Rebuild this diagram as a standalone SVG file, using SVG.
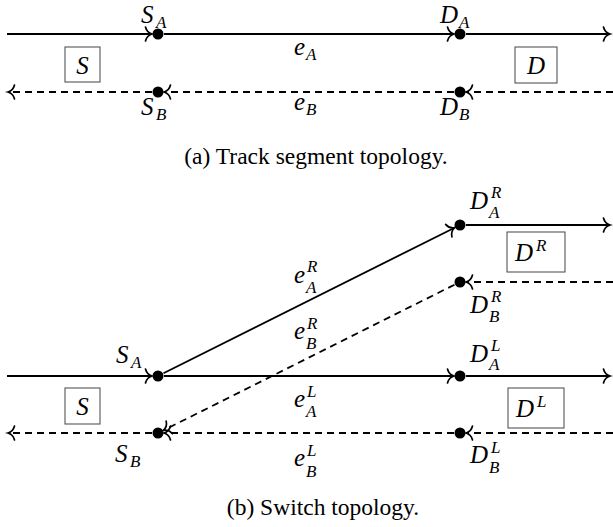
<svg xmlns="http://www.w3.org/2000/svg" width="613" height="527" viewBox="0 0 613 527">
<style>
.ln{fill:none;stroke:#000;stroke-width:1.8;marker-end:url(#arr)}
.ds{stroke-dasharray:7 5}
.dot{fill:#000}
.box{fill:#fff;stroke:#555;stroke-width:1.1}
.m{font-style:italic;font-size:25px;fill:#000}
.s{font-size:17px}
.cap{font-size:23.5px;fill:#000;text-anchor:middle}
</style>
<defs>
<marker id="arr" markerUnits="userSpaceOnUse" markerWidth="16" markerHeight="18" viewBox="-9 -9 11 18" refX="0" refY="0" orient="auto">
<path d="M-6.5,-7 C-5.5,-3 -2.5,-0.7 0,0 C-2.5,0.7 -5.5,3 -6.5,7" fill="none" stroke="#000" stroke-width="1.7" stroke-dasharray="none" stroke-linecap="round"/>
</marker>
</defs>

<g id="connectors">
<path class="ln" d="M7,34 H152"/>
<path class="ln" d="M164,34 H454"/>
<path class="ln" d="M466,34 H610"/>
<path class="ln ds" d="M613,92 H466"/>
<path class="ln ds" d="M454,92 H164"/>
<path class="ln ds" d="M152,92 H8"/>
<path class="ln" d="M7,376 H152"/>
<path class="ln" d="M164,376 H454"/>
<path class="ln" d="M466,376 H610"/>
<path class="ln" d="M163.5,373.3 L454.6,227.7"/>
<path class="ln" d="M466,225 H610"/>
<path class="ln ds" d="M613,282 H466"/>
<path class="ln ds" d="M454.5,284.7 L163.5,430.3"/>
<path class="ln ds" d="M613,433 H466"/>
<path class="ln ds" d="M454,433 H164"/>
<path class="ln ds" d="M152,433 H8"/>
</g>

<g font-family="'Liberation Serif', 'Times New Roman', 'DejaVu Serif', serif">
<g id="S_A_a"><circle class="dot" cx="158" cy="34" r="5.5"/><text class="m" x="141" y="23">S<tspan class="s" x="156" y="28">A</tspan></text></g>
<g id="D_A_a"><circle class="dot" cx="460" cy="34" r="5.5"/><text class="m" x="440" y="23">D<tspan class="s" x="459" y="28">A</tspan></text></g>
<g id="S_B_a"><circle class="dot" cx="158" cy="92" r="5.5"/><text class="m" x="141" y="115">S<tspan class="s" x="156" y="120">B</tspan></text></g>
<g id="D_B_a"><circle class="dot" cx="460" cy="92" r="5.5"/><text class="m" x="440" y="115">D<tspan class="s" x="459" y="120">B</tspan></text></g>
<g id="e_A_a"><text class="m" x="294" y="55">e<tspan class="s" x="306" y="60">A</tspan></text></g>
<g id="e_B_a"><text class="m" x="294" y="110">e<tspan class="s" x="306" y="115">B</tspan></text></g>
<g id="S_box_a"><rect class="box" x="65" y="47" width="35" height="35"/><text class="m" x="82.5" y="73.5" text-anchor="middle">S</text></g>
<g id="D_box_a"><rect class="box" x="515" y="47" width="42" height="36"/><text class="m" x="536" y="74" text-anchor="middle">D</text></g>
<text class="cap" x="316" y="164">(a) Track segment topology.</text>

<g id="S_A_b"><circle class="dot" cx="158" cy="376" r="5.5"/><text class="m" x="116" y="363">S<tspan class="s" x="131" y="368">A</tspan></text></g>
<g id="S_B_b"><circle class="dot" cx="158" cy="433" r="5.5"/><text class="m" x="115" y="462">S<tspan class="s" x="130" y="467">B</tspan></text></g>
<g id="D_A_R"><circle class="dot" cx="460" cy="225" r="5.5"/><text class="m" x="470" y="209">D<tspan class="s" x="491" y="198">R</tspan><tspan class="s" x="489" y="218">A</tspan></text></g>
<g id="D_B_R"><circle class="dot" cx="460" cy="282" r="5.5"/><text class="m" x="470" y="313">D<tspan class="s" x="491" y="302">R</tspan><tspan class="s" x="489" y="322">B</tspan></text></g>
<g id="D_A_L"><circle class="dot" cx="460" cy="376" r="5.5"/><text class="m" x="470" y="362">D<tspan class="s" x="491" y="351">L</tspan><tspan class="s" x="489" y="370">A</tspan></text></g>
<g id="D_B_L"><circle class="dot" cx="460" cy="433" r="5.5"/><text class="m" x="470" y="463">D<tspan class="s" x="491" y="453">L</tspan><tspan class="s" x="489" y="473">B</tspan></text></g>
<g id="e_A_R"><text class="m" x="294" y="283">e<tspan class="s" x="307" y="272">R</tspan><tspan class="s" x="306" y="293">A</tspan></text></g>
<g id="e_B_R"><text class="m" x="294" y="339">e<tspan class="s" x="307" y="329">R</tspan><tspan class="s" x="306" y="349">B</tspan></text></g>
<g id="e_A_L"><text class="m" x="294" y="407">e<tspan class="s" x="307" y="397">L</tspan><tspan class="s" x="306" y="417">A</tspan></text></g>
<g id="e_B_L"><text class="m" x="294" y="466">e<tspan class="s" x="307" y="456">L</tspan><tspan class="s" x="306" y="477">B</tspan></text></g>
<g id="S_box_b"><rect class="box" x="65" y="388" width="35" height="36"/><text class="m" x="82.5" y="415" text-anchor="middle">S</text></g>
<g id="D_box_R"><rect class="box" x="507" y="232" width="58" height="40"/><text class="m" x="515" y="261">D<tspan class="s" x="536" y="251">R</tspan></text></g>
<g id="D_box_L"><rect class="box" x="508" y="388" width="56" height="40"/><text class="m" x="516" y="417">D<tspan class="s" x="537" y="407">L</tspan></text></g>
<text class="cap" x="323" y="515">(b) Switch topology.</text>
</g>
</svg>
